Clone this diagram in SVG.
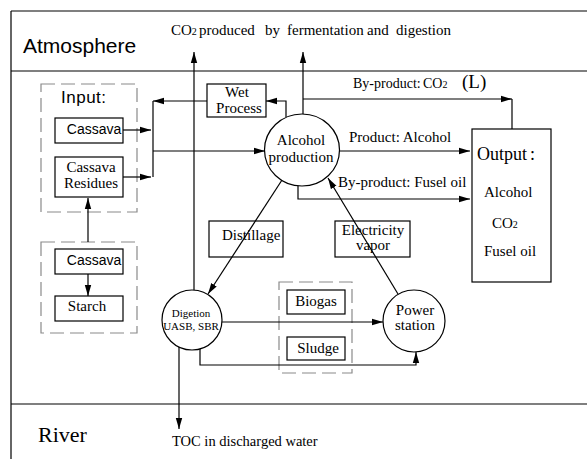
<svg xmlns="http://www.w3.org/2000/svg" width="587" height="459" viewBox="0 0 587 459">
<defs>
<marker id="ah" markerUnits="userSpaceOnUse" markerWidth="12" markerHeight="8" refX="11" refY="4" orient="auto">
<path d="M0,0.8 L11,4 L0,7.2 z" fill="#000"/>
</marker>
<style>
.ln{stroke:#000;stroke-width:1.2;fill:none}
.ar{stroke:#000;stroke-width:1.2;fill:none;marker-end:url(#ah)}
.bx{stroke:#000;stroke-width:1.2;fill:none}
.cc{stroke:#000;stroke-width:1.2;fill:#fff}
.dash{stroke:#8a8a8a;stroke-width:1.2;fill:none;stroke-dasharray:14 6}
.se{font-family:"Liberation Serif","Times New Roman",serif;font-size:15px;fill:#000}
.sa{font-family:"Liberation Sans",Arial,sans-serif;font-size:14px;fill:#000}
.mid{text-anchor:middle}
</style>
</defs>
<rect width="587" height="459" fill="#fff"/>
<g id="frame">
<line x1="11" y1="11" x2="11" y2="459" stroke="#666" stroke-width="2"/>
<line class="ln" x1="11" y1="11" x2="587" y2="11"/>
<line class="ln" x1="11" y1="71" x2="587" y2="71"/>
<line class="ln" x1="11" y1="404" x2="587" y2="404"/>
<text class="sa" x="23" y="53" style="font-size:21px">Atmosphere</text>
<text class="se" x="38" y="442" style="font-size:22px">River</text>
<text class="se" x="171" y="35">CO<tspan font-size="10">2</tspan><tspan x="199">produced</tspan><tspan x="265">by</tspan><tspan x="287">fermentation</tspan><tspan x="367">and</tspan><tspan x="396">digestion</tspan></text>
<text class="se" x="172" y="446" style="font-size:14.5px">TOC in discharged water</text>
</g>
<g id="input">
<rect class="dash" x="41" y="84" width="96" height="128"/>
<text class="sa" x="61" y="103" style="font-size:17px;letter-spacing:0.5px">Input:</text>
</g>
<g id="cassava1">
<rect class="bx" x="55" y="118" width="68" height="25"/>
<text class="sa mid" x="94" y="134">Cassava</text>
</g>
<g id="residues">
<rect class="bx" x="55" y="157" width="68" height="40"/>
<text class="se mid" x="91" y="172">Cassava</text>
<text class="se mid" x="91" y="188">Residues</text>
</g>
<g id="source">
<rect class="dash" x="41" y="242" width="96" height="91"/>
</g>
<g id="cassava2">
<rect class="bx" x="55" y="249" width="68" height="25"/>
<text class="sa mid" x="94" y="265">Cassava</text>
</g>
<g id="starch">
<rect class="bx" x="55" y="296" width="68" height="25"/>
<text class="se mid" x="87" y="311">Starch</text>
</g>
<g id="wet">
<rect class="bx" x="207" y="84" width="59" height="33"/>
<text class="se mid" x="237" y="97">Wet</text>
<text class="se mid" x="239" y="113">Process</text>
</g>
<g id="alcohol">
<ellipse class="cc" cx="302" cy="150" rx="37.5" ry="36"/>
<text class="se mid" x="301" y="145">Alcohol</text>
<text class="se mid" x="301" y="162">production</text>
</g>
<g id="output">
<rect class="bx" x="472" y="129" width="79" height="153"/>
<text class="se" x="477" y="160" style="font-size:18px">Output<tspan x="530">:</tspan></text>
<text class="se" x="484" y="197">Alcohol</text>
<text class="se" x="492" y="228">CO<tspan font-size="10">2</tspan></text>
<text class="se" x="484" y="256">Fusel oil</text>
</g>
<g id="distillage">
<rect class="bx" x="209" y="221" width="74" height="36"/>
<text class="se" x="222" y="240">Distillage</text>
</g>
<g id="electricity">
<rect class="bx" x="335" y="221" width="75" height="36"/>
<text class="se mid" x="373" y="235">Electricity</text>
<text class="se mid" x="373" y="250">vapor</text>
</g>
<g id="digestion">
<circle class="cc" cx="192" cy="320" r="30"/>
<text class="se mid" x="191" y="317" style="font-size:11px">Digetion</text>
<text class="se mid" x="191" y="330" style="font-size:11px">UASB, SBR</text>
</g>
<g id="products">
<rect class="dash" x="279" y="282" width="73" height="91"/>
</g>
<g id="biogas">
<rect class="bx" x="287" y="290" width="58" height="24"/>
<text class="se mid" x="316" y="306">Biogas</text>
</g>
<g id="sludge">
<rect class="bx" x="287" y="337" width="58" height="23"/>
<text class="se mid" x="318" y="353">Sludge</text>
</g>
<g id="power">
<circle class="cc" cx="414" cy="321" r="31"/>
<text class="se mid" x="415" y="315">Power</text>
<text class="se mid" x="415" y="330">station</text>
</g>
<g id="connectors">
<line class="ar" x1="123" y1="130" x2="151" y2="130"/>
<line class="ar" x1="123" y1="177" x2="151" y2="177"/>
<polyline class="ln" points="153,101 153,177"/>
<line class="ar" x1="207" y1="101" x2="153" y2="101"/>
<line class="ar" x1="153" y1="151" x2="265" y2="151"/>
<polyline class="ar" points="286,117 286,101 266,101"/>
<line class="ar" x1="303" y1="114" x2="303" y2="52"/>
<line class="ar" x1="194" y1="290" x2="194" y2="52"/>
<line class="ar" x1="303" y1="99" x2="512" y2="99"/>
<line class="ln" x1="512" y1="99" x2="512" y2="129"/>
<line class="ar" x1="339.5" y1="151" x2="470" y2="151"/>
<polyline class="ar" points="298,186 298,199 470,199"/>
<line class="ar" x1="282" y1="180" x2="208" y2="294"/>
<line class="ar" x1="398" y1="294" x2="328" y2="178"/>
<line class="ar" x1="222" y1="322" x2="383" y2="322"/>
<polyline class="ar" points="200,349 200,365 416,365 416,352"/>
<line class="ar" x1="179" y1="347" x2="179" y2="429"/>
<line class="ar" x1="88" y1="242" x2="88" y2="198"/>
<line class="ar" x1="88" y1="274" x2="88" y2="296"/>
<text class="se" x="349" y="142">Product: Alcohol</text>
<text class="se" x="338" y="187">By-product: Fusel oil</text>
<text class="se" x="353" y="88" style="font-size:14px">By-product: <tspan x="423">CO</tspan><tspan font-size="10">2</tspan><tspan x="462" font-size="19">(L)</tspan></text>
</g>
</svg>
